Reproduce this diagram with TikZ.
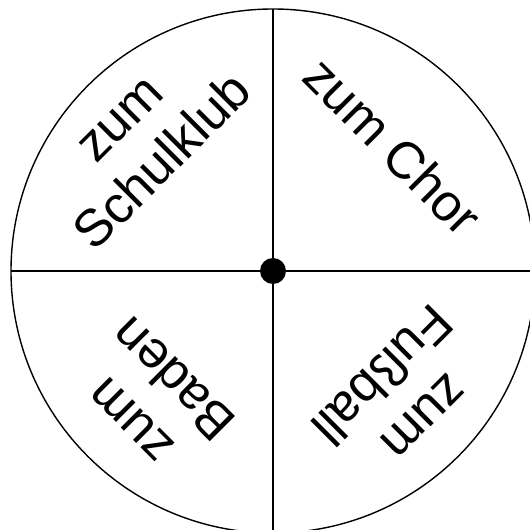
\documentclass[tikz,border=0pt]{standalone}
\usepackage{fontspec}
\setmainfont{Liberation Sans}
\begin{document}
\begin{tikzpicture}[x=1pt,y=1pt,
  lbl/.style={align=center,inner sep=0pt,font=\fontsize{52}{61}\selectfont},
  wheelline/.style={line width=1.4pt}]
\useasboundingbox (0,0) rectangle (530,530);
\fill[white] (0,0) rectangle (530,530);
\coordinate (c) at (273,259);
\draw[wheelline] (c) circle (262);
\coordinate (t) at (273,521);
\coordinate (b) at (273,-3);
\coordinate (l) at (11,259);
\coordinate (r) at (535,259);
\draw[wheelline] (t) -- (b);
\draw[wheelline] (l) -- (r);
\node[circle,fill=black,minimum size=26pt,inner sep=0pt] (hub) at (c) {};
\node[lbl,rotate=45] (schul) at (143,388) {zum\\Schulklub};
\node[lbl,rotate=-45] (chor) at (393,384) {zum Chor};
\node[lbl,rotate=135] (baden) at (154,132) {zum\\Baden};
\node[lbl,rotate=225] (fuss) at (401,136) {zum\\Fußball};
\end{tikzpicture}
\end{document}
